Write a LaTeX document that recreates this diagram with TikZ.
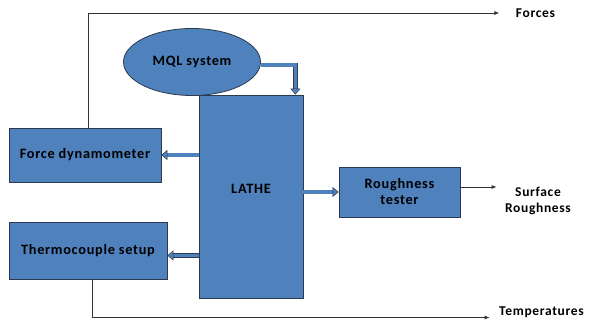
\documentclass[tikz,border=0pt]{standalone}
\usepackage{fontspec}
\setmainfont{Carlito}[LetterSpace=5]
\usetikzlibrary{arrows.meta,shapes.geometric}
\definecolor{boxblue}{HTML}{4F81BD}
\definecolor{rim}{HTML}{2B3A4F}
\tikzset{
  blk/.style={draw=rim, fill=boxblue, line width=0.8pt, align=center,
    font=\bfseries\fontsize{14.3}{16}\selectfont},
  pipe/.style={draw=rim, line width=0.5pt, double=boxblue, double distance=3.6pt,
    -{Triangle[open, fill=boxblue, width=10pt, length=6pt]}},
  wire/.style={draw=black!80, line width=0.8pt, -{Latex[length=5pt,width=4pt]}},
  outlbl/.style={align=center, font=\bfseries\fontsize{13.5}{15.5}\selectfont}
}

\begin{document}
\begin{tikzpicture}[x=1pt,y=1pt]
\useasboundingbox (0,0) rectangle (591,321);
\node[blk, ellipse, minimum width=137pt, minimum height=67pt] (mql) at (192,259) {MQL system};
\node[blk, minimum width=104pt, minimum height=203pt, text depth=15pt] (lathe) at (251,124.5) {LATHE};
\node[blk, minimum width=152pt, minimum height=54pt] (fd) at (85,166) {Force dynamometer};
\node[blk, minimum width=158pt, minimum height=57pt] (tc) at (88,70.5) {Thermocouple setup};
\node[blk, minimum width=121pt, minimum height=50pt] (rt) at (399.5,129) {Roughness\\tester};
\node[outlbl] (forces) at (535.5,308) {Forces};
\node[outlbl] (sr) at (538,120) {Surface\\Roughness};
\node[outlbl] (temp) at (541.5,8.5) {Temperatures};
\draw[pipe] ([yshift=-3pt]mql.east) -| ([xshift=-8pt]lathe.north east);
\draw[pipe] (fd.east -| lathe.west) -- (fd.east);
\draw[pipe] ([yshift=-5pt]tc.east -| lathe.west) -- ([yshift=-5pt]tc.east);
\draw[pipe] (lathe.east |- rt.west) -- (rt.west);
\draw[wire, shorten >=13pt] ([xshift=3pt]fd.north) |- (forces);
\draw[wire, shorten >=5pt] ([yshift=5pt]rt.east) -- ([yshift=5pt]rt.east -| sr.west);
\draw[wire, shorten >=6pt] ([xshift=4pt]tc.south) |- ([yshift=-5pt]temp.west);
\end{tikzpicture}
\end{document}
